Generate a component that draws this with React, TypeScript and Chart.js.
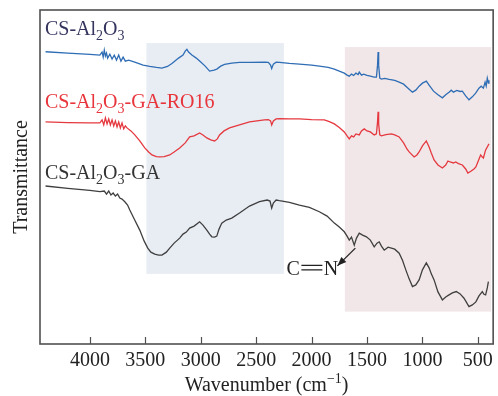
import { useEffect, useRef } from "react";
import { Chart, registerables } from "chart.js";
Chart.register(...registerables);

// ---------- data (wavenumber cm^-1, transmittance a.u. with vertical offsets) ----------
const WN_BLUE = [4400, 4200, 4000, 3910, 3890, 3880, 3870, 3860, 3850, 3840, 3820, 3800, 3780, 3760, 3740, 3720, 3700, 3680, 3650, 3595, 3520, 3460, 3400, 3350, 3300, 3260, 3200, 3160, 3140, 3125, 3110, 3080, 3040, 3010, 2960, 2920, 2880, 2855, 2820, 2785, 2720, 2650, 2560, 2425, 2390, 2370, 2360, 2345, 2320, 2290, 2200, 2110, 2000, 1930, 1850, 1795, 1750, 1705, 1680, 1660, 1640, 1620, 1600, 1580, 1570, 1550, 1530, 1500, 1470, 1435, 1415, 1405, 1400, 1395, 1385, 1370, 1340, 1300, 1250, 1210, 1170, 1130, 1090, 1060, 1030, 1000, 965, 940, 900, 860, 820, 790, 760, 740, 720, 690, 660, 640, 610, 580, 550, 520, 490, 470, 450, 435, 425, 415, 405, 400];
const T_BLUE = [87.5, 87.1, 86.7, 86.5, 87.4, 85.9, 88.0, 86.2, 87.1, 85.6, 86.8, 85.3, 86.5, 85.0, 86.5, 84.7, 85.9, 84.7, 85.0, 84.4, 83.5, 83.1, 82.8, 82.6, 83.1, 84.0, 85.6, 86.5, 87.7, 88.2, 87.4, 86.5, 85.6, 84.7, 83.2, 81.7, 82.0, 82.3, 83.2, 83.7, 84.1, 84.3, 84.3, 84.4, 84.3, 83.5, 82.5, 83.8, 84.4, 84.3, 84.0, 83.8, 83.5, 83.2, 82.8, 82.3, 81.7, 81.1, 80.5, 80.2, 80.8, 80.4, 81.1, 80.7, 81.4, 80.5, 80.8, 80.4, 80.2, 79.9, 79.9, 83.5, 87.4, 83.5, 79.6, 79.3, 79.5, 79.2, 78.9, 78.4, 77.8, 76.6, 75.4, 76.0, 77.2, 78.1, 78.7, 77.5, 75.7, 74.6, 73.7, 74.6, 75.4, 76.0, 75.4, 75.9, 75.6, 75.7, 74.3, 73.1, 74.0, 75.1, 76.6, 77.2, 76.6, 78.4, 77.2, 79.6, 78.1, 79.0];

const WN_RED = [4400, 4200, 4000, 3910, 3890, 3875, 3860, 3845, 3830, 3815, 3800, 3785, 3770, 3755, 3740, 3725, 3710, 3695, 3680, 3665, 3630, 3595, 3550, 3505, 3470, 3440, 3400, 3370, 3330, 3280, 3240, 3190, 3140, 3100, 3060, 3010, 2980, 2945, 2910, 2875, 2850, 2830, 2790, 2740, 2650, 2560, 2425, 2390, 2370, 2360, 2345, 2320, 2290, 2200, 2110, 2000, 1885, 1840, 1795, 1750, 1705, 1680, 1660, 1640, 1620, 1600, 1570, 1550, 1525, 1500, 1470, 1435, 1415, 1405, 1400, 1395, 1385, 1370, 1330, 1280, 1250, 1210, 1170, 1140, 1120, 1075, 1050, 1030, 1000, 965, 940, 920, 895, 860, 820, 790, 770, 750, 720, 700, 675, 640, 610, 590, 560, 535, 518, 500, 475, 460, 450, 430, 415, 400];
const T_RED = [66.5, 66.3, 66.2, 66.2, 67.1, 65.6, 67.7, 65.9, 67.4, 65.6, 67.1, 65.3, 66.8, 65.0, 66.5, 64.7, 66.2, 64.4, 65.3, 64.7, 63.8, 62.6, 60.8, 58.7, 57.5, 56.6, 56.1, 56.0, 56.1, 56.6, 57.5, 58.7, 60.2, 62.0, 62.3, 63.2, 62.6, 61.7, 61.1, 60.8, 61.4, 62.6, 63.8, 64.7, 65.6, 66.5, 67.1, 67.2, 66.8, 65.6, 66.8, 67.4, 67.5, 67.4, 67.4, 67.2, 67.1, 66.6, 65.9, 64.8, 63.5, 62.3, 61.4, 62.3, 62.0, 62.9, 62.6, 63.8, 64.4, 63.8, 63.5, 62.6, 62.9, 66.5, 69.5, 65.9, 62.6, 62.3, 62.7, 62.9, 62.6, 62.0, 60.2, 58.4, 57.5, 56.0, 56.6, 57.5, 59.3, 60.8, 59.0, 57.2, 55.1, 53.6, 52.7, 53.6, 54.8, 54.5, 54.2, 54.5, 54.0, 53.6, 52.4, 51.2, 51.8, 52.4, 53.0, 54.5, 56.6, 56.0, 55.7, 58.1, 59.0, 59.9];

const WN_GRAY = [4400, 4200, 4000, 3910, 3870, 3850, 3830, 3810, 3790, 3770, 3750, 3730, 3710, 3685, 3660, 3640, 3600, 3550, 3510, 3478, 3450, 3415, 3380, 3350, 3310, 3280, 3240, 3190, 3160, 3130, 3100, 3060, 3010, 2980, 2945, 2920, 2900, 2875, 2855, 2835, 2810, 2770, 2720, 2650, 2560, 2470, 2400, 2375, 2360, 2345, 2320, 2290, 2200, 2110, 2020, 1930, 1860, 1795, 1750, 1705, 1680, 1660, 1640, 1615, 1595, 1570, 1540, 1505, 1470, 1435, 1410, 1390, 1370, 1345, 1310, 1280, 1250, 1210, 1180, 1150, 1120, 1090, 1060, 1030, 1000, 965, 940, 920, 895, 860, 820, 790, 760, 730, 695, 660, 625, 600, 580, 550, 518, 490, 460, 445, 430, 415, 405];
const T_GRAY = [47.3, 46.6, 46.0, 45.6, 45.8, 44.9, 45.8, 44.6, 45.2, 44.3, 44.9, 43.7, 43.4, 42.6, 41.6, 40.1, 37.4, 34.1, 30.8, 28.7, 27.5, 26.9, 26.6, 26.6, 27.5, 28.7, 30.2, 31.7, 32.9, 33.5, 34.7, 35.3, 36.6, 35.6, 34.1, 32.9, 32.1, 32.0, 32.3, 34.4, 36.2, 37.1, 37.7, 39.2, 41.3, 42.6, 43.1, 42.8, 40.7, 42.2, 43.1, 42.9, 42.4, 41.6, 40.9, 39.6, 38.3, 36.2, 35.0, 33.6, 32.3, 31.1, 32.0, 29.6, 31.7, 33.2, 32.6, 32.1, 31.1, 29.1, 30.2, 30.6, 29.3, 28.1, 29.0, 28.7, 28.4, 27.2, 25.1, 22.2, 19.5, 17.2, 17.7, 19.2, 22.2, 24.3, 22.8, 21.0, 19.2, 15.6, 13.2, 14.1, 14.7, 15.3, 15.7, 15.0, 13.7, 12.3, 11.2, 11.7, 12.6, 14.4, 15.7, 14.9, 14.7, 16.8, 18.7];

const X_TICKS = [4000, 3500, 3000, 2500, 2000, 1500, 1000, 500];

// shaded bands: [wn from, wn to, top, bottom]
const BAND_1 = [3490, 2250, 90.1, 21.0];
const BAND_2 = [1700, 380, 88.9, 9.7];

type Seg = [string, number]; // 0 normal, 1 subscript, 2 superscript
const LABEL_BLUE: Seg[] = [["CS-Al", 0], ["2", 1], ["O", 0], ["3", 1]];
const LABEL_RED: Seg[] = [["CS-Al", 0], ["2", 1], ["O", 0], ["3", 1], ["-GA-RO16", 0]];
const LABEL_GRAY: Seg[] = [["CS-Al", 0], ["2", 1], ["O", 0], ["3", 1], ["-GA", 0]];
const X_TITLE: Seg[] = [["Wavenumber (cm", 0], ["\u22121", 2], [")", 0]];
const Y_TITLE = "Transmittance";

const SERIF = '"Liberation Serif", "Times New Roman", Times, serif';

function drawRich(ctx: CanvasRenderingContext2D, x: number, y: number, segs: Seg[], size: number, color: string, align = "left") {
  ctx.save();
  ctx.fillStyle = color;
  ctx.textBaseline = "alphabetic";
  ctx.textAlign = "left";
  const small = Math.round(size * 0.68);
  let total = 0;
  for (const [t, k] of segs) {
    ctx.font = `${k ? small : size}px ${SERIF}`;
    total += ctx.measureText(t).width;
  }
  let cx = align === "center" ? x - total / 2 : x;
  for (const [t, k] of segs) {
    ctx.font = `${k ? small : size}px ${SERIF}`;
    const dy = k === 1 ? size * 0.25 : k === 2 ? -size * 0.4 : 0;
    ctx.fillText(t, cx, y + dy);
    cx += ctx.measureText(t).width;
  }
  ctx.restore();
}

const overlay = {
  id: "overlay",
  beforeDatasetsDraw(chart: any) {
    const { ctx, scales } = chart;
    const xs = scales.x, ys = scales.y;
    ctx.save();
    const bands: [number[], string][] = [[BAND_1, "#e8edf4"], [BAND_2, "#f1e7e8"]];
    for (const [b, c] of bands) {
      const x1 = xs.getPixelForValue(b[0]);
      const x2 = xs.getPixelForValue(b[1]);
      const y1 = ys.getPixelForValue(b[2]);
      const y2 = ys.getPixelForValue(b[3]);
      ctx.fillStyle = c;
      ctx.fillRect(x1, y1, x2 - x1, y2 - y1);
    }
    ctx.restore();
  },
  afterDraw(chart: any) {
    const { ctx, chartArea: a, scales } = chart;
    const xs = scales.x, ys = scales.y;
    ctx.save();
    // frame
    ctx.strokeStyle = "#505050";
    ctx.lineWidth = 1.6;
    ctx.strokeRect(a.left, a.top, a.right - a.left, a.bottom - a.top);
    // inward ticks
    ctx.lineWidth = 1.2;
    for (const v of X_TICKS) {
      const px = Math.round(xs.getPixelForValue(v)) + 0.5;
      ctx.beginPath();
      ctx.moveTo(px, a.bottom);
      ctx.lineTo(px, a.bottom - 7);
      ctx.stroke();
    }
    ctx.restore();

    // series labels
    const lx = xs.getPixelForValue(4405);
    drawRich(ctx, lx, ys.getPixelForValue(92.5), LABEL_BLUE, 20, "#34345f");
    drawRich(ctx, lx, ys.getPixelForValue(70.7), LABEL_RED, 20, "#e8353c");
    drawRich(ctx, lx, ys.getPixelForValue(49.4), LABEL_GRAY, 20, "#333333");

    // axis titles
    drawRich(ctx, (a.left + a.right) / 2, 391, X_TITLE, 20, "#222222", "center");
    ctx.save();
    ctx.translate(22, (a.top + a.bottom) / 2);
    ctx.rotate(-Math.PI / 2);
    ctx.font = `20px ${SERIF}`;
    ctx.fillStyle = "#222222";
    ctx.textAlign = "center";
    ctx.textBaseline = "middle";
    ctx.fillText(Y_TITLE, 0, 0);
    ctx.restore();

    // C=N annotation
    ctx.save();
    const tx = xs.getPixelForValue(2226);
    const ty = ys.getPixelForValue(20.7);
    ctx.font = `20px ${SERIF}`;
    ctx.fillStyle = "#222222";
    ctx.textBaseline = "alphabetic";
    ctx.fillText("C", tx, ty);
    const cw = ctx.measureText("C").width;
    const bx1 = tx + cw + 1.5, bx2 = bx1 + 21;
    ctx.strokeStyle = "#222222";
    ctx.lineWidth = 1.1;
    ctx.beginPath();
    ctx.moveTo(bx1, ty - 9.5); ctx.lineTo(bx2, ty - 9.5);
    ctx.moveTo(bx1, ty - 5); ctx.lineTo(bx2, ty - 5);
    ctx.stroke();
    ctx.fillText("N", bx2 + 1.5, ty);
    // arrow
    const ax1 = xs.getPixelForValue(1605), ay1 = ys.getPixelForValue(28.7);
    const ax2 = xs.getPixelForValue(1767), ay2 = ys.getPixelForValue(23.4);
    ctx.lineWidth = 1.3;
    ctx.beginPath();
    ctx.moveTo(ax1, ay1);
    ctx.lineTo(ax2, ay2);
    ctx.stroke();
    const ang = Math.atan2(ay2 - ay1, ax2 - ax1);
    const hl = 9, hw = 3.5;
    ctx.beginPath();
    ctx.moveTo(ax2, ay2);
    ctx.lineTo(ax2 - hl * Math.cos(ang) + hw * Math.sin(ang), ay2 - hl * Math.sin(ang) - hw * Math.cos(ang));
    ctx.lineTo(ax2 - hl * Math.cos(ang) - hw * Math.sin(ang), ay2 - hl * Math.sin(ang) + hw * Math.cos(ang));
    ctx.closePath();
    ctx.fill();
    ctx.restore();
  },
};

const toPts = (xs: number[], ys: number[]) => xs.map((x, i) => ({ x, y: ys[i] }));

export default function App() {
  const ref = useRef<HTMLCanvasElement>(null);
  useEffect(() => {
    document.body.style.margin = "0";
    const chart = new Chart(ref.current!, {
      type: "line",
      data: {
        datasets: [
          { label: "CS-Al2O3", data: toPts(WN_BLUE, T_BLUE), borderColor: "#2f6db5", borderWidth: 1.3, pointRadius: 0, tension: 0 },
          { label: "CS-Al2O3-GA-RO16", data: toPts(WN_RED, T_RED), borderColor: "#e5383f", borderWidth: 1.3, pointRadius: 0, tension: 0 },
          { label: "CS-Al2O3-GA", data: toPts(WN_GRAY, T_GRAY), borderColor: "#3f3f3f", borderWidth: 1.3, pointRadius: 0, tension: 0 },
        ],
      },
      options: {
        responsive: false,
        animation: false,
        devicePixelRatio: 1,
        layout: { padding: { top: 10, right: 4, left: 0, bottom: 0 } },
        plugins: { legend: { display: false }, tooltip: { enabled: false } },
        scales: {
          x: {
            type: "linear",
            min: 362,
            max: 4450,
            reverse: true,
            grid: { display: false, drawTicks: false },
            border: { display: false },
            ticks: {
              font: { family: SERIF, size: 20 },
              color: "#222222",
              padding: 5,
              autoSkip: false,
              maxRotation: 0,
              callback: (v: any) => String(v),
            },
            afterBuildTicks: (s: any) => { s.ticks = X_TICKS.map((v) => ({ value: v })); },
            afterFit: (s: any) => { s.height = 52; },
          },
          y: {
            type: "linear",
            min: 0,
            max: 100,
            grid: { display: false, drawTicks: false },
            border: { display: false },
            ticks: { display: false },
            afterFit: (s: any) => { s.width = 40; },
          },
        },
      },
      plugins: [overlay],
    });
    return () => chart.destroy();
  }, []);
  return (
    <div style={{ width: 498, height: 396 }}>
      <canvas ref={ref} width={498} height={396} />
    </div>
  );
}
